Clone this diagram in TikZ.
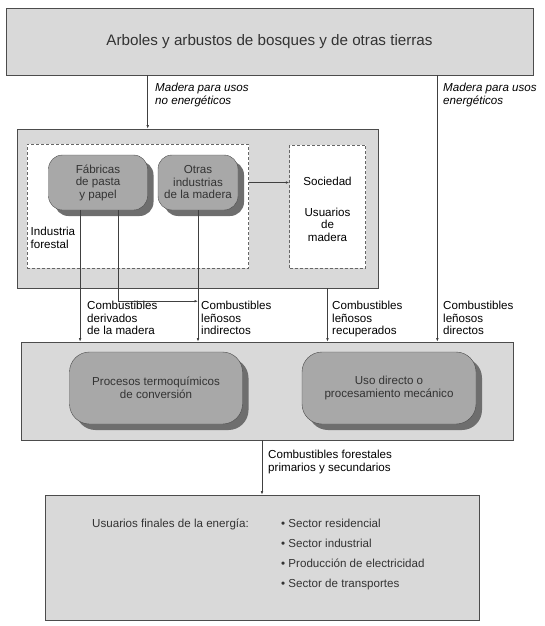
\documentclass[tikz,border=0pt]{standalone}
\usepackage{fontspec}
\setmainfont{Liberation Sans}
\usetikzlibrary{arrows.meta, positioning, shadows, calc}
\definecolor{panelgray}{HTML}{D9D9D9}
\definecolor{blobgray}{HTML}{A8A8A8}
\definecolor{shadegray}{HTML}{6E6E6E}
\definecolor{inkgray}{HTML}{333333}
\tikzset{
  panel/.style={rectangle, draw=black!70, fill=panelgray, line width=0.7pt, inner sep=0pt},
  zone/.style={rectangle, draw=black!60, dash pattern=on 3pt off 2pt, fill=white, inner sep=0pt},
  blob/.style={rectangle, rounded corners=14pt, draw=black!70, fill=blobgray, align=center, text=inkgray,
    drop shadow={shadow xshift=6pt, shadow yshift=-6pt, fill=shadegray, opacity=1}},
  tag/.style={align=left, inner sep=0pt, anchor=north west},
  line/.style={-{Latex[length=3.5pt,width=2.6pt]}, black!75, line width=0.6pt}
}

\begin{document}
\begin{tikzpicture}[x=1pt, y=-1pt, font=\fontsize{11.6}{12.5}\selectfont]
    \useasboundingbox[fill=white] (0,0) rectangle (545,626);

    % panels
    \node[panel, minimum width=527pt, minimum height=67pt, text=inkgray, font=\fontsize{15.2}{17}\selectfont] (top) at (269.5,41.5) {Arboles y arbustos de bosques y de otras tierras};
    \node[panel, minimum width=361pt, minimum height=159pt] (ind) at (197.5,208.5) {};
    \node[zone, minimum width=221.5pt, minimum height=124pt] (forest) at (137.75,206) {};
    \node[zone, minimum width=76pt, minimum height=123pt] (soc) at (327.5,206.5) {};
    \node[panel, minimum width=492pt, minimum height=98pt] (ene) at (267,391) {};
    \node[panel, minimum width=434pt, minimum height=125pt] (fin) at (262,557.5) {};

    % rounded boxes
    \node[blob, minimum width=99pt, minimum height=55pt] (fab) at (98,182.5) {Fábricas\\de pasta\\y papel};
    \node[blob, minimum width=80pt, minimum height=55pt] (otras) at (198,182.5) {Otras\\industrias\\de la madera};
    \node[blob, rounded corners=20pt, minimum width=173pt, minimum height=72pt] (termo) at (156,388) {Procesos termoquímicos\\de conversión};
    \node[blob, rounded corners=20pt, minimum width=174pt, minimum height=72pt] (uso) at (389,388) {Uso directo o\\procesamiento mecánico};

    % texts inside zones
    \node[tag] (indlbl) at (30.5,227) {Industria\\forestal};
    \node[inner sep=0pt] (soclbl) at (327.5,181) {Sociedad};
    \node[inner sep=0pt, align=center, below=22pt of soclbl] (usulbl) {Usuarios\\de\\madera};
    \node[inner sep=0pt, anchor=base west, text=inkgray] (finlbl) at (92,527) {Usuarios finales de la energía:};
    \node[inner sep=0pt, anchor=north west, align=left, text=inkgray, font=\fontsize{11.6}{20}\selectfont] (sectors) at (281,519)
      {\textbullet\ Sector residencial\\\textbullet\ Sector industrial\\\textbullet\ Producción de electricidad\\\textbullet\ Sector de transportes};

    % flow labels
    \node[tag, font=\fontsize{11.6}{12.5}\selectfont\itshape] (nolbl) at (155,83) {Madera para usos\\no energéticos};
    \node[tag, font=\fontsize{11.6}{12.5}\selectfont\itshape] (silbl) at (443,83) {Madera para usos\\energéticos};
    \node[tag] (derlbl) at (87,301) {Combustibles\\derivados\\de la madera};
    \node[tag] (indirlbl) at (201,301) {Combustibles\\leñosos\\indirectos};
    \node[tag] (reclbl) at (332,301) {Combustibles\\leñosos\\recuperados};
    \node[tag] (dirlbl) at (443,301) {Combustibles\\leñosos\\directos};
    \node[tag] (forlbl) at (268,450) {Combustibles forestales\\primarios y secundarios};

    % connectors
    \coordinate (dirtop) at ($(top.south east)+(-96,0)$);
    \coordinate (fabl) at ($(fab.south west)!0.32!(fab.south east)$);
    \coordinate (fabr) at ($(fab.south west)!0.70!(fab.south east)$);
    \coordinate (joint) at ($(otras.south)+(0,91)$);

    \draw[line] (fab.east |- top.south) -- (fab.east |- ind.north);
    \draw[line] (dirtop) -- (dirtop |- ene.north);
    \draw[line] (fabl) -- (fabl |- ene.north);
    \draw[line] (fabr) |- (joint);
    \draw[line] (otras.south) -- (otras.south |- ene.north);
    \draw[line] (otras.east -| forest.east) -- (otras.east -| soc.west);
    \draw[line] (soc.south |- ind.south) -- (soc.south |- ene.north);
    \draw[line] (fin.north |- ene.south) -- (fin.north);
  \end{tikzpicture}
\end{document}
